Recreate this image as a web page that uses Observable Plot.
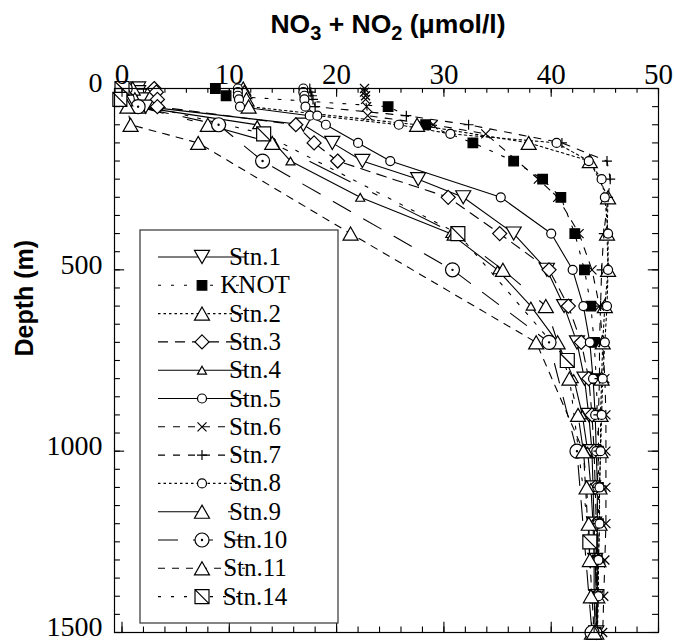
<!DOCTYPE html>
<html><head><meta charset="utf-8">
<script src="https://cdn.jsdelivr.net/npm/d3@7"></script>
<script src="https://cdn.jsdelivr.net/npm/@observablehq/plot@0.6"></script>
<style>body{margin:0;background:#fff;} #chart{position:relative;width:674px;height:641px;}</style>
</head><body><div id="chart"></div>
<script>
// ---------- data ----------
const xTicksMajor = [0, 10, 20, 30, 40, 50];
const xTicksMinor = [0,2,4,6,8,10,12,14,16,18,20,22,24,26,28,30,32,34,36,38,40,42,44,46,48,50];
const depthTicksMajor = [0, 500, 1000, 1500];
const depthTicksMinor = [0,50,100,150,200,250,300,350,400,450,500,550,600,650,700,750,800,850,900,950,1000,1050,1100,1150,1200,1250,1300,1350,1400,1450,1500];

const stationNames = ["Stn.1","KNOT","Stn.2","Stn.3","Stn.4","Stn.5","Stn.6","Stn.7","Stn.8","Stn.9","Stn.10","Stn.11","Stn.14"];

const stn1Depth = [0,10,20,30,50,100,150,200,250,300,400,500,600,700,800,900,1000,1100,1200,1300,1400,1500];
const stn1NO3   = [1.5,1.5,1.6,1.8,2.2,16.9,19.6,22.4,27.6,31.8,36.5,39.6,41.2,42.4,43.1,43.5,43.8,43.9,44,44.1,44.2,44.2];
const knotDepth = [0,20,50,100,150,200,250,300,400,500,600,700,800,900,1000,1100,1200,1300,1400,1500];
const knotNO3   = [8.7,9.7,24.8,28.3,32.7,36.5,39.2,40.9,42.2,43.1,43.7,44,44.2,44.3,44.4,44.4,44.4,44.3,44.2,44.2];
const stn2Depth = [0,10,30,50,100,150,200,300,400,500,600,700,800,900,1000,1100,1200,1300,1400,1500];
const stn2NO3   = [11.3,11.4,11.6,11.8,27.5,37.9,43.6,45.3,45.2,45.3,45,44.8,44.7,44.6,44.6,44.5,44.5,44.4,44.3,44.2];
const stn3Depth = [0,10,30,50,100,150,200,300,400,500,600,700,800,900,1000,1100,1200,1300,1400,1500];
const stn3NO3   = [3.0,3.2,3.3,3.3,16.2,17.9,20.1,30.4,35.2,39.8,41.6,42.8,43.5,43.8,44,44.1,44.2,44.2,44.2,44.2];
const stn4Depth = [0,10,30,50,100,150,200,300,400,500,600,700,800,900,1000,1100,1200,1300,1400,1500];
const stn4NO3   = [1.0,1.0,1.2,1.5,12.6,14.2,15.7,22.2,30.6,35.0,38.1,40.6,42.1,42.9,43.4,43.7,43.9,44,44,44.1];
const stn5Depth = [0,10,20,30,50,75,100,150,200,300,400,500,600,700,800,900,1000,1100,1200,1300,1400,1500];
const stn5NO3   = [10.8,10.8,10.8,10.9,11,17.5,19,22,25,35.3,40,42,43,43.6,43.9,44.1,44.2,44.3,44.3,44.3,44.3,44.3];
const stn6Depth = [0,10,20,30,50,75,100,125,250,300,400,500,600,700,800,900,1000,1100,1200,1300,1400,1500];
const stn6NO3   = [22.6,22.6,22.7,22.7,22.8,22.9,29,33.9,38.8,40.6,42.6,43.8,44.5,44.8,45,45.1,45.1,45.1,45.1,45,44.9,44.8];
const stn7Depth = [0,10,20,30,50,75,100,150,200,250,300,400,500,600,700,800,900,1000,1100,1200,1300,1400,1500];
const stn7NO3   = [17.5,17.6,17.7,17.8,18,26.5,32.3,41,45.2,45.5,45.3,44.9,44.7,44.6,44.5,44.5,44.4,44.4,44.3,44.3,44.2,44.2,44.2];
const stn8Depth = [0,10,20,30,50,75,100,125,150,200,250,300,400,500,600,700,800,900,1000,1100,1200,1300,1400,1500];
const stn8NO3   = [16.9,16.9,17,17,17.1,18.2,25.8,30.6,40.5,43.5,44.7,45,45.3,45.3,45.2,45,44.8,44.7,44.6,44.5,44.5,44.4,44.4,44.3];
const stn9Depth = [0,30,50,100,150,400,500,600,700,800,900,1000,1100,1200,1300,1400,1500];
const stn9NO3   = [1.0,1.2,1.5,8,14,31,35.5,39.5,40.6,41.7,42.5,43,43.3,43.5,43.6,43.7,43.8];
const stn10Depth = [0,30,50,100,200,500,700,1000,1500];
const stn10NO3   = [0.3,0.5,1.5,9.0,13.1,30.8,39.8,42.4,43.8];
const stn11Depth = [0,30,50,100,150,400,700,1000,1500];
const stn11NO3   = [0.2,0.3,0.5,0.8,7.1,21.3,38.6,43.0,44.0];
const stn14Depth = [0,30,125,400,750,1250];
const stn14NO3   = [0.0,-0.2,13.2,31.3,41.5,43.6];

const depthSets = [stn1Depth,knotDepth,stn2Depth,stn3Depth,stn4Depth,stn5Depth,stn6Depth,stn7Depth,stn8Depth,stn9Depth,stn10Depth,stn11Depth,stn14Depth];
const valueSets = [stn1NO3,knotNO3,stn2NO3,stn3NO3,stn4NO3,stn5NO3,stn6NO3,stn7NO3,stn8NO3,stn9NO3,stn10NO3,stn11NO3,stn14NO3];

// ---------- styles ----------
const symbolKinds = ["triDown","square","triUp","diamond","triUp","circle","times","plus","circle","triUp","circleDot","triUp","squareSlash"];
const symbolR     = [7.5, 4.8, 7.5, 7, 4.5, 4.5, 4.5, 5, 4.5, 7.5, 7, 7.5, 7];
const symbolFill  = ["white","black","white","white","white","white","white","white","white","white","white","white","white"];
const dashes      = [null,"3,10","2.5,3","10,7",null,null,"7,8","7,8","2.5,3","45,25,5,25","20,15","7,7","3,10"];

function makeSymbol(kind) {
  return {
    draw(ctx, size) {
      const r = Math.sqrt(size / Math.PI);
      const h = r * 1.75;
      switch (kind) {
        case "triDown": ctx.moveTo(-r, -h/2); ctx.lineTo(r, -h/2); ctx.lineTo(0, h/2); ctx.closePath(); break;
        case "triUp": ctx.moveTo(0, -h/2); ctx.lineTo(r, h/2); ctx.lineTo(-r, h/2); ctx.closePath(); break;
        case "diamond": ctx.moveTo(0, -r); ctx.lineTo(r, 0); ctx.lineTo(0, r); ctx.lineTo(-r, 0); ctx.closePath(); break;
        case "square": ctx.rect(-r, -r, 2*r, 2*r); break;
        case "squareSlash": ctx.rect(-r, -r, 2*r, 2*r); ctx.moveTo(-r, -r); ctx.lineTo(r, r); break;
        case "circle": ctx.moveTo(r, 0); ctx.arc(0, 0, r, 0, 2*Math.PI); break;
        case "circleDot": ctx.moveTo(r, 0); ctx.arc(0, 0, r, 0, 2*Math.PI); ctx.moveTo(0.6, 0); ctx.arc(0, 0, 0.6, 0, 2*Math.PI); break;
        case "times": ctx.moveTo(-r, -r); ctx.lineTo(r, r); ctx.moveTo(r, -r); ctx.lineTo(-r, r); break;
        case "plus": ctx.moveTo(-r, 0); ctx.lineTo(r, 0); ctx.moveTo(0, -r); ctx.lineTo(0, r); break;
      }
    }
  };
}

// ---------- marks ----------
const xMin = -0.7, xMax = 50;
const lineMarks = [], dotMarks = [];
stationNames.forEach((name, i) => {
  const rows = depthSets[i].map((d, j) => ({station: name, depth: d, no3: valueSets[i][j]}));
  lineMarks.push(Plot.line(rows, {x: "no3", y: "depth", stroke: "black", strokeWidth: 1.1, strokeDasharray: dashes[i] || undefined}));
  dotMarks.push(Plot.dot(rows, {x: "no3", y: "depth", symbol: makeSymbol(symbolKinds[i]), r: symbolR[i], stroke: "black", strokeWidth: 1.2, fill: symbolFill[i]}));
});

const plot = Plot.plot({
  width: 674, height: 641,
  marginLeft: 114, marginRight: 16, marginTop: 88, marginBottom: 9,
  style: {fontFamily: "Liberation Serif", color: "black", background: "white"},
  x: {domain: [xMin, xMax], axis: null},
  y: {domain: [0, 1500], reverse: true, axis: null},
  marks: [
    ...lineMarks,
    ...dotMarks,
    Plot.frame({stroke: "black", strokeWidth: 1.2}),
    Plot.ruleX(xTicksMinor, {x: d => d, y1: 0, y2: 13, stroke: "black", strokeWidth: 1.1}),
    Plot.ruleX(xTicksMajor, {x: d => d, y1: 0, y2: 24, stroke: "black", strokeWidth: 1.1}),
    Plot.ruleX(xTicksMinor, {x: d => d, y1: 1500, y2: 1485, stroke: "black", strokeWidth: 1.1}),
    Plot.ruleX(xTicksMajor, {x: d => d, y1: 1500, y2: 1472, stroke: "black", strokeWidth: 1.1}),
    Plot.ruleY(depthTicksMinor, {y: d => d, x1: xMin, x2: xMin + 0.55, stroke: "black", strokeWidth: 1.1}),
    Plot.ruleY(depthTicksMajor, {y: d => d, x1: xMin, x2: xMin + 0.95, stroke: "black", strokeWidth: 1.1}),
    Plot.ruleY(depthTicksMinor, {y: d => d, x1: xMax, x2: xMax - 0.55, stroke: "black", strokeWidth: 1.1}),
    Plot.ruleY(depthTicksMajor, {y: d => d, x1: xMax, x2: xMax - 0.95, stroke: "black", strokeWidth: 1.1}),
    Plot.axisX(xTicksMajor, {anchor: "top", tickSize: 0, tickPadding: 5, fontSize: 29, label: null}),
    Plot.axisY(depthTicksMajor, {anchor: "left", tickSize: 0, tickPadding: 12, fontSize: 28, dy: -5, tickFormat: d => String(d), label: null}),
    Plot.text(["Depth (m)"], {frameAnchor: "left", dx: -90, dy: -4, rotate: -90, fontSize: 25, fontWeight: "bold", fontFamily: "Liberation Sans"})
  ]
});

document.getElementById("chart").appendChild(plot);
const svg = d3.select(plot);

// title with subscripts
const title = svg.append("text").attr("x", 388).attr("y", 33).attr("text-anchor", "middle")
  .attr("font-family", "Liberation Sans").attr("font-weight", "bold").attr("font-size", 26.5).attr("fill", "black");
title.append("tspan").text("NO");
title.append("tspan").attr("dy", 7).attr("font-size", 20).text("3");
title.append("tspan").attr("dy", -7).text(" + NO");
title.append("tspan").attr("dy", 7).attr("font-size", 20).text("2");
title.append("tspan").attr("dy", -7).text(" (\u03bcmol/l)");

// legend
const lg = svg.append("g");
lg.append("rect").attr("x", 140).attr("y", 230).attr("width", 198).attr("height", 393)
  .attr("fill", "white").attr("stroke", "#333").attr("stroke-width", 1.2);
stationNames.forEach((name, i) => {
  const y = 257 + i * 28.3;
  lg.append("line").attr("x1", 158).attr("x2", 245).attr("y1", y).attr("y2", y)
    .attr("stroke", "black").attr("stroke-width", 1.1).attr("stroke-dasharray", dashes[i] || null);
  lg.append("path").attr("transform", `translate(202,${y})`)
    .attr("d", d3.symbol().type(makeSymbol(symbolKinds[i])).size(Math.PI * symbolR[i] * symbolR[i])())
    .attr("fill", symbolFill[i]).attr("stroke", "black").attr("stroke-width", 1.2);
  lg.append("text").attr("x", 255).attr("y", y + 8).attr("font-family", "Liberation Serif")
    .attr("font-size", 25).attr("fill", "black").text(name);
});
</script></body></html>
